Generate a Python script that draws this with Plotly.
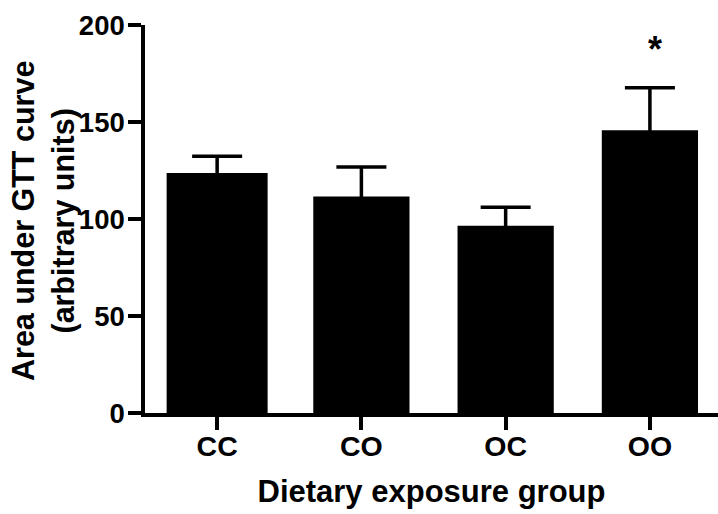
import plotly.graph_objects as go

# Area under the glucose tolerance test curve by dietary exposure group
groups = ["CC", "CO", "OC", "OO"]
auc_mean = [123.7, 111.6, 96.5, 145.7]
auc_sem = [8.6, 15.2, 9.6, 21.9]
significant = ["", "", "", "*"]
y_ticks = [0, 50, 100, 150, 200]

FONT = "Liberation Sans, Arial, Helvetica, sans-serif"
bar_widths = [0.70, 0.667, 0.667, 0.667]
# lower whisker cap is tucked inside the bar so only the upper SEM shows
hidden_minus = [3] * len(groups)

fig = go.Figure()
fig.add_trace(go.Bar(
    x=groups,
    y=auc_mean,
    width=bar_widths,
    marker=dict(color="black", line=dict(width=0)),
    error_y=dict(type="data", array=auc_sem, arrayminus=hidden_minus,
                 symmetric=False, color="black", thickness=3.5, width=25),
    showlegend=False,
))

# significance marks above the error bars
for g, m, e, s in zip(groups, auc_mean, auc_sem, significant):
    if s:
        fig.add_annotation(x=g, y=m + e, text=s, showarrow=False,
                           xshift=5, yshift=38, yanchor="middle",
                           font=dict(family=FONT, size=36, color="black", weight="bold"))

# two-line y-axis title
fig.add_annotation(xref="paper", yref="paper", x=0, y=0.5,
                   xanchor="center", yanchor="middle", xshift=-102, yshift=-2,
                   text="Area under GTT curve<br>(arbitrary units)", textangle=-90,
                   showarrow=False,
                   font=dict(family=FONT, size=30.5, color="black", weight="bold"))

fig.update_layout(
    width=718, height=514,
    margin=dict(l=145, r=0, t=25, b=101),
    paper_bgcolor="white", plot_bgcolor="white",
    font=dict(family=FONT, color="black", weight="bold"),
    xaxis=dict(
        range=[-0.5, 3.472],
        showline=True, linewidth=3.5, linecolor="black",
        ticks="outside", ticklen=13, tickwidth=3.5, tickcolor="black",
        ticklabelstandoff=-8,
        tickfont=dict(family=FONT, size=28.5, color="black", weight="bold"),
        showgrid=False, zeroline=False,
        title=dict(text="Dietary exposure group", standoff=20,
                   font=dict(family=FONT, size=31, color="black", weight="bold")),
    ),
    yaxis=dict(
        range=[0, 200],
        tickvals=y_ticks,
        showline=True, linewidth=3.5, linecolor="black",
        ticks="outside", ticklen=13, tickwidth=3.5, tickcolor="black",
        ticklabelstandoff=-2,
        tickfont=dict(family=FONT, size=27.5, color="black", weight="bold"),
        showgrid=False, zeroline=False,
    ),
)

fig.write_html("out.html")
